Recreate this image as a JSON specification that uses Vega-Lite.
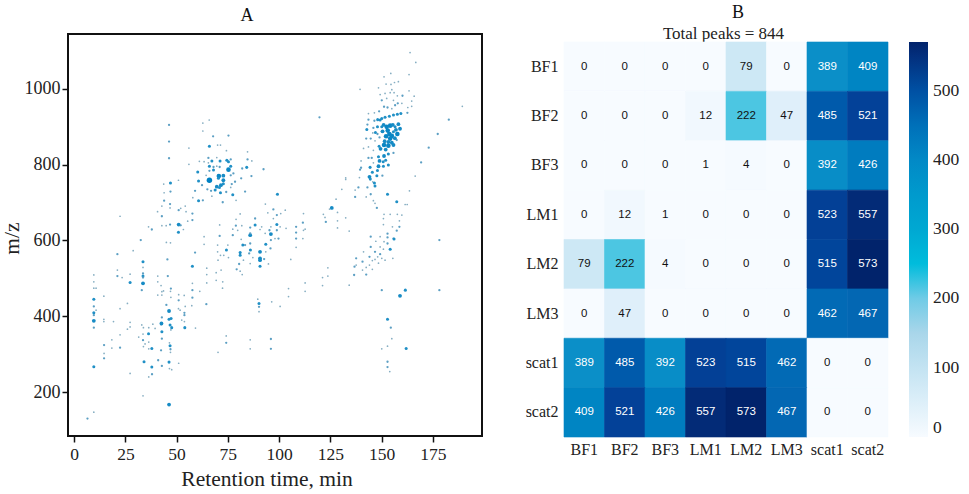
{
"$schema":"https://vega.github.io/schema/vega-lite/v6.json",
"autosize":"none",
"padding":{"left":68,"top":34,"right":901,"bottom":460},
"background":"white",
"bounds":"flush",
"spacing":82,
"config":{"font":"Liberation Serif","view":{"stroke":null}},
"resolve":{"scale":{"color":"independent","size":"independent"},"legend":{"color":"independent"}},
"hconcat":[
{
"width":414,"height":402,
"title":{"text":"A","font":"Liberation Serif","fontSize":18,"fontWeight":"normal","offset":9,"color":"#111","dx":-28},
"view":{"stroke":"#111","strokeWidth":2},
"data":{"values":[
{"t":9.6,"m":509,"i":1},{"t":9.6,"m":491,"i":1},{"t":9.6,"m":474,"i":1},{"t":9.6,"m":445,"i":3},{"t":9.6,"m":426,"i":2},{"t":9.6,"m":409,"i":3},{"t":9.6,"m":403,"i":2},{"t":9.6,"m":388,"i":4},{"t":9.6,"m":370,"i":2},{"t":9.6,"m":267,"i":3},{"t":10.7,"m":474,"i":1},{"t":10.7,"m":416,"i":1},{"t":14.5,"m":453,"i":1},{"t":14.5,"m":392,"i":1},{"t":14.5,"m":386,"i":1},{"t":19.2,"m":386,"i":1},{"t":14.6,"m":324,"i":2},{"t":14.6,"m":302,"i":1},{"t":14.6,"m":289,"i":2},{"t":18.4,"m":338,"i":1},{"t":18.4,"m":316,"i":1},{"t":22.4,"m":351,"i":1},{"t":22.4,"m":317,"i":2},{"t":22.4,"m":420,"i":1},{"t":26,"m":434,"i":1},{"t":27.3,"m":384,"i":1},{"t":27.3,"m":372,"i":1},{"t":26,"m":366,"i":1},{"t":27.3,"m":249,"i":1},{"t":6.5,"m":130,"i":2},{"t":9.6,"m":147,"i":1},
{"t":21.1,"m":564,"i":2},{"t":21.1,"m":522,"i":1},{"t":21.1,"m":506,"i":2},{"t":23.4,"m":502,"i":1},{"t":27.3,"m":511,"i":1},{"t":27.3,"m":489,"i":3},{"t":28.8,"m":573,"i":1},{"t":32.5,"m":601,"i":2},{"t":33.6,"m":544,"i":3},{"t":33.6,"m":529,"i":1},{"t":33.6,"m":513,"i":2},{"t":33.6,"m":506,"i":3},{"t":33.6,"m":502,"i":2},{"t":33.6,"m":487,"i":4},{"t":33,"m":469,"i":2},{"t":33,"m":377,"i":1},{"t":33.8,"m":370,"i":1},{"t":36.4,"m":370,"i":1},{"t":38.4,"m":379,"i":1},{"t":39.5,"m":368,"i":1},{"t":42.4,"m":378,"i":1},{"t":31.5,"m":345,"i":1},{"t":33.6,"m":353,"i":1},{"t":36.3,"m":354,"i":3},{"t":33.6,"m":337,"i":2},{"t":36.4,"m":332,"i":1},{"t":33.8,"m":320,"i":1},{"t":34.6,"m":327,"i":1},{"t":36.4,"m":314,"i":1},{"t":37.9,"m":315,"i":3},{"t":34.1,"m":280,"i":3},{"t":37.9,"m":266,"i":3},{"t":38,"m":247,"i":2},{"t":36.4,"m":240,"i":1},{"t":33.6,"m":190,"i":1},{"t":41,"m":284,"i":2},{"t":42.8,"m":269,"i":2},{"t":42.4,"m":310,"i":2},{"t":42.8,"m":341,"i":2},{"t":42.8,"m":359,"i":3},{"t":42.6,"m":381,"i":4},{"t":42.8,"m":397,"i":2},{"t":45,"m":430,"i":2},{"t":46.3,"m":414,"i":4},{"t":46.3,"m":392,"i":3},{"t":47.3,"m":394,"i":3},{"t":46.8,"m":377,"i":3},{"t":47.6,"m":370,"i":3},{"t":47.2,"m":364,"i":1},{"t":46.5,"m":330,"i":1},{"t":46.8,"m":322,"i":3},{"t":47,"m":313,"i":2},{"t":47,"m":305,"i":1},{"t":46.3,"m":279,"i":3},{"t":46.5,"m":262,"i":1},{"t":47.6,"m":259,"i":1},{"t":51,"m":276,"i":1},{"t":46.3,"m":167,"i":4},
{"t":45.5,"m":550,"i":2},{"t":45.7,"m":506,"i":2},{"t":45,"m":595,"i":1},{"t":47,"m":594,"i":1},{"t":40.8,"m":506,"i":1},{"t":40.8,"m":491,"i":1},{"t":42.4,"m":481,"i":1},{"t":42.8,"m":465,"i":1},{"t":43.6,"m":467,"i":1},{"t":40.8,"m":456,"i":1},{"t":42.8,"m":456,"i":1},{"t":47.2,"m":473,"i":2},{"t":47,"m":466,"i":1},{"t":47.2,"m":450,"i":1},{"t":51,"m":457,"i":1},{"t":51,"m":442,"i":2},{"t":53.7,"m":455,"i":1},{"t":57.7,"m":469,"i":2},{"t":61.3,"m":466,"i":1},{"t":57.7,"m":449,"i":2},{"t":54.2,"m":426,"i":1},{"t":57.4,"m":428,"i":1},{"t":50.9,"m":420,"i":1},{"t":51.7,"m":416,"i":1},{"t":53.8,"m":409,"i":2},{"t":53.8,"m":403,"i":2},{"t":52.5,"m":390,"i":1},{"t":53.8,"m":386,"i":1},{"t":54,"m":370,"i":3},{"t":59.2,"m":369,"i":1},{"t":57.7,"m":532,"i":3},{"t":57.7,"m":487,"i":1},{"t":64.7,"m":527,"i":1},{"t":64.7,"m":510,"i":1},{"t":64.7,"m":488,"i":1},{"t":64.5,"m":432,"i":2},{"t":59,"m":568,"i":2},{"t":63.4,"m":610,"i":1},{"t":63.4,"m":590,"i":1},
{"t":70,"m":588,"i":1},{"t":71,"m":612,"i":2},{"t":70,"m":570,"i":1},{"t":71.4,"m":561,"i":1},{"t":73,"m":561,"i":1},{"t":74.3,"m":575,"i":3},{"t":75.3,"m":555,"i":1},{"t":70.2,"m":548,"i":1},{"t":75,"m":588,"i":1},{"t":69.3,"m":515,"i":1},{"t":71.7,"m":522,"i":1},{"t":69.3,"m":495,"i":1},{"t":72.5,"m":491,"i":1},{"t":72.4,"m":474,"i":1},{"t":79.3,"m":524,"i":2},{"t":81,"m":519,"i":1},{"t":82,"m":510,"i":1},{"t":80.5,"m":538,"i":2},{"t":82.6,"m":548,"i":1},{"t":81,"m":568,"i":3},{"t":81,"m":561,"i":3},{"t":77.4,"m":614,"i":2},{"t":82.3,"m":588,"i":3},{"t":83.4,"m":588,"i":2},{"t":81.5,"m":603,"i":1},{"t":85.9,"m":614,"i":4},{"t":85.9,"m":592,"i":2},{"t":86,"m":575,"i":3},{"t":85.4,"m":566,"i":2},{"t":87.2,"m":555,"i":1},{"t":85.9,"m":539,"i":1},{"t":90.7,"m":570,"i":4},{"t":90.7,"m":553,"i":4},{"t":90.7,"m":548,"i":4},{"t":90.7,"m":532,"i":3},{"t":92.7,"m":551,"i":2},{"t":93.5,"m":590,"i":3},{"t":93.5,"m":570,"i":1},{"t":95.8,"m":579,"i":2},{"t":96,"m":617,"i":4},{"t":96,"m":601,"i":2},{"t":94.8,"m":538,"i":1},{"t":98,"m":605,"i":1},{"t":99.7,"m":605,"i":2},{"t":89.6,"m":445,"i":1},{"t":90.2,"m":434,"i":3},{"t":90.2,"m":425,"i":2},{"t":90.2,"m":412,"i":1},{"t":96.4,"m":438,"i":1},{"t":100.5,"m":426,"i":1},{"t":74.2,"m":348,"i":1},{"t":74.2,"m":330,"i":2},{"t":70.2,"m":305,"i":1},{"t":85.9,"m":338,"i":1},{"t":85.9,"m":314,"i":1},{"t":96,"m":340,"i":2},{"t":96,"m":314,"i":2},
{"t":46.3,"m":905,"i":2},{"t":46.3,"m":861,"i":2},{"t":46.3,"m":817,"i":2},{"t":62.8,"m":910,"i":1},{"t":65.9,"m":918,"i":1},{"t":62.8,"m":889,"i":1},{"t":67.8,"m":875,"i":2},{"t":75.3,"m":877,"i":2},{"t":66,"m":849,"i":3},{"t":70,"m":852,"i":1},{"t":71.4,"m":852,"i":1},{"t":74.3,"m":837,"i":1},{"t":56,"m":844,"i":1},{"t":56,"m":801,"i":1},{"t":84.6,"m":834,"i":1},{"t":84.6,"m":814,"i":2},{"t":86.7,"m":810,"i":1},{"t":65.5,"m":818,"i":2},{"t":69.6,"m":819,"i":1},{"t":61.1,"m":809,"i":1},{"t":63.4,"m":808,"i":1},{"t":65.5,"m":805,"i":1},{"t":67.2,"m":810,"i":3},{"t":71.2,"m":810,"i":3},{"t":74.5,"m":812,"i":3},{"t":76.4,"m":814,"i":2},{"t":75.3,"m":808,"i":3},{"t":66,"m":796,"i":3},{"t":68,"m":794,"i":2},{"t":69.6,"m":796,"i":1},{"t":71,"m":794,"i":2},{"t":76.4,"m":796,"i":3},{"t":75.3,"m":787,"i":5},{"t":68,"m":786,"i":3},{"t":66,"m":784,"i":2},{"t":60.3,"m":781,"i":3},{"t":64.4,"m":772,"i":1},{"t":70.6,"m":770,"i":5},{"t":72.8,"m":771,"i":4},{"t":76.4,"m":772,"i":2},{"t":77.7,"m":777,"i":2},{"t":66,"m":759,"i":6},{"t":60.7,"m":757,"i":3},{"t":70.4,"m":764,"i":3},{"t":72.8,"m":759,"i":4},{"t":72.8,"m":750,"i":3},{"t":71.6,"m":746,"i":4},{"t":69.6,"m":742,"i":4},{"t":68.8,"m":733,"i":3},{"t":70.9,"m":740,"i":3},{"t":62.4,"m":746,"i":2},{"t":65,"m":735,"i":2},{"t":66.8,"m":731,"i":2},{"t":59,"m":731,"i":2},{"t":71.4,"m":726,"i":3},{"t":74.2,"m":728,"i":2},{"t":76.9,"m":749,"i":2},{"t":76.4,"m":740,"i":1},{"t":78.5,"m":755,"i":2},{"t":81.5,"m":764,"i":2},{"t":83.4,"m":729,"i":2},{"t":77.4,"m":721,"i":3},{"t":72.5,"m":701,"i":2},{"t":79,"m":706,"i":1},{"t":67.2,"m":717,"i":1},{"t":60.7,"m":705,"i":3},{"t":62.8,"m":706,"i":2},{"t":57.9,"m":713,"i":1},{"t":82,"m":790,"i":2},{"t":84.2,"m":793,"i":3},{"t":86.5,"m":770,"i":2},{"t":92.4,"m":788,"i":2},
{"t":50.9,"m":759,"i":1},{"t":47,"m":752,"i":3},{"t":43.7,"m":749,"i":1},{"t":43.9,"m":726,"i":1},{"t":47,"m":729,"i":2},{"t":43.9,"m":705,"i":2},{"t":46.8,"m":696,"i":2},{"t":46.8,"m":686,"i":1},{"t":51,"m":680,"i":2},{"t":52,"m":685,"i":1},{"t":54.2,"m":691,"i":1},{"t":42.8,"m":691,"i":1},{"t":40.7,"m":676,"i":1},{"t":54.6,"m":676,"i":1},{"t":57.7,"m":671,"i":2},{"t":42.8,"m":664,"i":2},{"t":57.7,"m":654,"i":2},{"t":55.4,"m":651,"i":1},{"t":22.4,"m":664,"i":1},{"t":36.3,"m":636,"i":1},{"t":37.9,"m":629,"i":2},{"t":42.8,"m":639,"i":1},{"t":44.9,"m":639,"i":1},{"t":46.8,"m":642,"i":2},{"t":51,"m":642,"i":4},{"t":52,"m":640,"i":2},{"t":50.9,"m":622,"i":3},{"t":53.3,"m":629,"i":1},
{"t":99.2,"m":722,"i":3},{"t":93.3,"m":696,"i":1},{"t":97.2,"m":682,"i":2},{"t":94.5,"m":673,"i":1},{"t":98.9,"m":667,"i":2},{"t":98.9,"m":642,"i":3},{"t":97.2,"m":658,"i":1},{"t":96,"m":636,"i":1},{"t":95.3,"m":627,"i":2},{"t":91.5,"m":636,"i":1},{"t":88.3,"m":658,"i":2},{"t":88.3,"m":641,"i":3},{"t":85.9,"m":634,"i":2},{"t":85.9,"m":619,"i":2},{"t":79,"m":656,"i":1},{"t":81,"m":670,"i":1},{"t":78.9,"m":639,"i":2},{"t":81.8,"m":639,"i":1},{"t":77.4,"m":630,"i":1},{"t":79.8,"m":627,"i":1},{"t":71,"m":641,"i":1},{"t":90.7,"m":629,"i":1},{"t":93.2,"m":619,"i":1},{"t":98.9,"m":627,"i":2},{"t":100.5,"m":636,"i":1},
{"t":119.7,"m":925,"i":2},{"t":139.5,"m":999,"i":1},{"t":163.9,"m":1096,"i":1},{"t":166.7,"m":1070,"i":1},{"t":163.4,"m":1038,"i":1},{"t":151.2,"m":1032,"i":1},{"t":154.5,"m":1041,"i":1},{"t":158.2,"m":1019,"i":1},{"t":156.3,"m":1017,"i":1},{"t":152.2,"m":1013,"i":1},{"t":154.6,"m":1012,"i":1},{"t":148.5,"m":1003,"i":1},{"t":155,"m":998,"i":1},{"t":163.4,"m":995,"i":1},{"t":151.7,"m":988,"i":1},{"t":154.2,"m":990,"i":1},{"t":156.1,"m":990,"i":1},{"t":149.3,"m":985,"i":1},{"t":157.7,"m":982,"i":1},{"t":160.2,"m":982,"i":2},{"t":165.9,"m":981,"i":1},{"t":152.5,"m":975,"i":1},{"t":150.1,"m":970,"i":2},{"t":155.8,"m":970,"i":1},{"t":164.7,"m":968,"i":1},{"t":157.9,"m":962,"i":2},{"t":159.9,"m":962,"i":1},{"t":156.6,"m":957,"i":2},{"t":151.2,"m":953,"i":2},{"t":152.9,"m":951,"i":2},{"t":155,"m":948,"i":1},{"t":162.8,"m":951,"i":1},{"t":164.7,"m":954,"i":1},{"t":148.8,"m":941,"i":2},{"t":146.5,"m":937,"i":1},{"t":143.6,"m":935,"i":1},{"t":159.4,"m":935,"i":3},{"t":157.7,"m":933,"i":3},{"t":155.8,"m":931,"i":3},{"t":153.8,"m":928,"i":3},{"t":151.7,"m":925,"i":3},{"t":162.6,"m":937,"i":2},{"t":150.1,"m":922,"i":3},{"t":148.1,"m":919,"i":3},{"t":143.6,"m":919,"i":2},{"t":146.5,"m":916,"i":2},{"t":149.3,"m":918,"i":3},{"t":158.2,"m":907,"i":4},{"t":156.6,"m":900,"i":3},{"t":154.2,"m":903,"i":5},{"t":152.5,"m":900,"i":5},{"t":150.1,"m":900,"i":3},{"t":148,"m":900,"i":3},{"t":146,"m":897,"i":2},{"t":143.1,"m":906,"i":2},{"t":142.8,"m":893,"i":3},{"t":157.7,"m":881,"i":5},{"t":155.8,"m":887,"i":3},{"t":153.8,"m":881,"i":5},{"t":152.2,"m":875,"i":5},{"t":150.1,"m":887,"i":2},{"t":148,"m":881,"i":2},{"t":145.7,"m":884,"i":1},{"t":154.2,"m":869,"i":5},{"t":157.4,"m":865,"i":2},{"t":142.5,"m":869,"i":2},{"t":144.7,"m":869,"i":2},{"t":149,"m":872,"i":2},{"t":146.8,"m":863,"i":1},{"t":151.2,"m":852,"i":5},{"t":153.3,"m":850,"i":5},{"t":155.8,"m":852,"i":4},{"t":148.8,"m":849,"i":3},{"t":141.2,"m":843,"i":1},{"t":143.6,"m":847,"i":1},{"t":146,"m":838,"i":1},{"t":153.3,"m":860,"i":4},{"t":155.8,"m":831,"i":2},{"t":153.3,"m":828,"i":3},{"t":151.2,"m":823,"i":4},{"t":148.5,"m":821,"i":3},{"t":143.6,"m":818,"i":2},{"t":145.2,"m":818,"i":2},{"t":140,"m":810,"i":1},{"t":146,"m":805,"i":1},{"t":148.5,"m":796,"i":4},{"t":150.9,"m":796,"i":3},{"t":153.3,"m":799,"i":3},{"t":144.4,"m":793,"i":3},{"t":140,"m":792,"i":2},{"t":139.5,"m":787,"i":2},{"t":144.1,"m":768,"i":4},{"t":147.7,"m":771,"i":3},{"t":150.4,"m":771,"i":2},{"t":139.2,"m":766,"i":1},{"t":132.5,"m":765,"i":1},{"t":132.5,"m":761,"i":1},{"t":166.4,"m":770,"i":1},{"t":138.7,"m":740,"i":2},{"t":143.1,"m":740,"i":2},{"t":146.8,"m":744,"i":3},{"t":145.7,"m":755,"i":1},{"t":130.6,"m":735,"i":1},{"t":137.1,"m":733,"i":1},{"t":137.1,"m":715,"i":2},{"t":142.5,"m":715,"i":1},{"t":144.7,"m":722,"i":2},{"t":152.9,"m":722,"i":3},{"t":163.6,"m":731,"i":1},{"t":169.3,"m":806,"i":2},{"t":173,"m":845,"i":2},{"t":177.4,"m":881,"i":2},{"t":182.8,"m":919,"i":2},{"t":189.4,"m":954,"i":1},{"t":127.8,"m":709,"i":1},{"t":146,"m":705,"i":1},{"t":146.8,"m":698,"i":1},{"t":147.7,"m":686,"i":2},{"t":157.4,"m":702,"i":3},{"t":161.5,"m":695,"i":1},{"t":162.5,"m":695,"i":1},{"t":125.7,"m":686,"i":4},{"t":124.6,"m":683,"i":1},{"t":121.6,"m":669,"i":1},{"t":103,"m":680,"i":1},{"t":111.9,"m":671,"i":1},{"t":111.6,"m":647,"i":2},{"t":100.8,"m":671,"i":1},{"t":122.4,"m":661,"i":1},{"t":122.8,"m":649,"i":2},{"t":128.5,"m":674,"i":1},{"t":128.5,"m":652,"i":1},{"t":128.5,"m":633,"i":1},{"t":132.5,"m":660,"i":1},{"t":134.2,"m":625,"i":1},{"t":108.3,"m":636,"i":2},{"t":108.3,"m":621,"i":2},{"t":111.9,"m":627,"i":1},{"t":112.7,"m":630,"i":1},{"t":103.4,"m":632,"i":1},{"t":151.2,"m":669,"i":1},{"t":154.2,"m":669,"i":1},{"t":157.7,"m":669,"i":1},{"t":159.9,"m":667,"i":1},{"t":150.9,"m":658,"i":1},{"t":158.7,"m":652,"i":1},{"t":150.9,"m":642,"i":1},{"t":155.3,"m":636,"i":1},{"t":158.7,"m":636,"i":2},{"t":157.4,"m":626,"i":2},{"t":152.9,"m":618,"i":2},{"t":152.9,"m":608,"i":2},{"t":155.8,"m":605,"i":2},{"t":144.7,"m":610,"i":2},
{"t":178.2,"m":601,"i":2},{"t":149.3,"m":610,"i":1},{"t":156.1,"m":604,"i":3},{"t":152.9,"m":592,"i":2},{"t":151.2,"m":597,"i":1},{"t":147.2,"m":598,"i":1},{"t":154.2,"m":577,"i":3},{"t":144.7,"m":583,"i":2},{"t":149.3,"m":583,"i":1},{"t":150.9,"m":577,"i":1},{"t":146.8,"m":570,"i":2},{"t":149.3,"m":564,"i":2},{"t":141.2,"m":570,"i":1},{"t":144.1,"m":557,"i":2},{"t":137.6,"m":553,"i":2},{"t":146.8,"m":550,"i":1},{"t":148.1,"m":557,"i":1},{"t":150.1,"m":553,"i":1},{"t":151.7,"m":548,"i":1},{"t":155.5,"m":553,"i":1},{"t":140.7,"m":544,"i":2},{"t":145.5,"m":547,"i":1},{"t":148.5,"m":540,"i":1},{"t":137.6,"m":535,"i":1},{"t":136.8,"m":531,"i":2},{"t":144.1,"m":535,"i":1},{"t":142.5,"m":529,"i":1},{"t":140.7,"m":522,"i":1},{"t":145.5,"m":524,"i":1},{"t":136.6,"m":509,"i":2},{"t":142.5,"m":510,"i":2},{"t":123.8,"m":528,"i":1},{"t":123.8,"m":506,"i":1},{"t":121.2,"m":502,"i":1},{"t":121.2,"m":481,"i":1},{"t":134.2,"m":482,"i":1},{"t":112.7,"m":488,"i":1},{"t":112.7,"m":466,"i":1},{"t":104.6,"m":473,"i":1},{"t":104.6,"m":452,"i":1},{"t":105.7,"m":550,"i":1},{"t":108.3,"m":582,"i":1},{"t":108.3,"m":605,"i":2},{"t":111.6,"m":605,"i":1},
{"t":150.1,"m":469,"i":2},{"t":161.6,"m":469,"i":3},{"t":159,"m":454,"i":4},{"t":178.2,"m":469,"i":2},{"t":152.9,"m":392,"i":3},{"t":154.5,"m":370,"i":2},{"t":155,"m":341,"i":1},{"t":152.9,"m":321,"i":1},{"t":150.1,"m":314,"i":1},{"t":162,"m":315,"i":3},{"t":152.9,"m":280,"i":2},{"t":152.9,"m":266,"i":2},{"t":154,"m":254,"i":1},
{"t":151,"m":905,"i":4},{"t":155.5,"m":905,"i":4},{"t":157,"m":892,"i":4},{"t":159,"m":895,"i":4},{"t":155,"m":876,"i":5},{"t":156.5,"m":870,"i":4},{"t":151.5,"m":862,"i":4},{"t":155,"m":858,"i":4},{"t":150.5,"m":888,"i":4},{"t":153,"m":890,"i":5},{"t":149.5,"m":842,"i":4},{"t":152,"m":840,"i":4},{"t":147,"m":885,"i":3},{"t":149,"m":810,"i":4},{"t":152,"m":812,"i":3},{"t":145.5,"m":780,"i":3},{"t":144.5,"m":762,"i":3},{"t":148,"m":785,"i":3},{"t":150.8,"m":808,"i":3},{"t":146.5,"m":752,"i":3}
]},
"mark":{"type":"circle","opacity":1,"stroke":null},
"encoding":{
"x":{"field":"t","type":"quantitative","scale":{"domain":[-3,199],"nice":false,"zero":false},
"axis":{"title":"Retention time, min","values":[0,25,50,75,100,125,150,175],"grid":false,"domain":false,"tickColor":"#111","tickWidth":1.5,"tickSize":6,"labelFont":"Liberation Serif","labelFontSize":17.5,"labelColor":"#222","labelPadding":3,"titleFont":"Liberation Serif","titleFontSize":21.5,"titleFontWeight":"normal","titleColor":"#222","titlePadding":6,"titleX":198.5}},
"y":{"field":"m","type":"quantitative","scale":{"domain":[84,1145],"nice":false,"zero":false},
"axis":{"title":"m/z","format":"d","values":[200,400,600,800,1000],"grid":false,"domain":false,"tickColor":"#111","tickWidth":1.5,"tickSize":6,"labelFont":"Liberation Serif","labelFontSize":18,"labelColor":"#222","labelPadding":2,"titleFont":"Liberation Serif","titleFontSize":21.5,"titleFontWeight":"normal","titleColor":"#222","titlePadding":1,"titleY":204}},
"size":{"field":"i","type":"quantitative","legend":null,"scale":{"type":"pow","exponent":2,"domain":[1,6],"range":[3,30],"zero":false}},
"color":{"field":"i","type":"quantitative","legend":null,"scale":{"domain":[1,3,5],"range":["#86aec2","#2090c6","#0a86c4"],"zero":false}}
}
},
{
"width":324,"height":403,
"title":{"text":"B","font":"Liberation Serif","fontSize":18,"fontWeight":"normal","color":"#111","dx":12,"offset":2},
"data":{"values":[
{"a":"BF1","b":"BF1","v":0},{"a":"BF2","b":"BF1","v":0},{"a":"BF3","b":"BF1","v":0},{"a":"LM1","b":"BF1","v":0},{"a":"LM2","b":"BF1","v":79},{"a":"LM3","b":"BF1","v":0},{"a":"scat1","b":"BF1","v":389},{"a":"scat2","b":"BF1","v":409},
{"a":"BF1","b":"BF2","v":0},{"a":"BF2","b":"BF2","v":0},{"a":"BF3","b":"BF2","v":0},{"a":"LM1","b":"BF2","v":12},{"a":"LM2","b":"BF2","v":222},{"a":"LM3","b":"BF2","v":47},{"a":"scat1","b":"BF2","v":485},{"a":"scat2","b":"BF2","v":521},
{"a":"BF1","b":"BF3","v":0},{"a":"BF2","b":"BF3","v":0},{"a":"BF3","b":"BF3","v":0},{"a":"LM1","b":"BF3","v":1},{"a":"LM2","b":"BF3","v":4},{"a":"LM3","b":"BF3","v":0},{"a":"scat1","b":"BF3","v":392},{"a":"scat2","b":"BF3","v":426},
{"a":"BF1","b":"LM1","v":0},{"a":"BF2","b":"LM1","v":12},{"a":"BF3","b":"LM1","v":1},{"a":"LM1","b":"LM1","v":0},{"a":"LM2","b":"LM1","v":0},{"a":"LM3","b":"LM1","v":0},{"a":"scat1","b":"LM1","v":523},{"a":"scat2","b":"LM1","v":557},
{"a":"BF1","b":"LM2","v":79},{"a":"BF2","b":"LM2","v":222},{"a":"BF3","b":"LM2","v":4},{"a":"LM1","b":"LM2","v":0},{"a":"LM2","b":"LM2","v":0},{"a":"LM3","b":"LM2","v":0},{"a":"scat1","b":"LM2","v":515},{"a":"scat2","b":"LM2","v":573},
{"a":"BF1","b":"LM3","v":0},{"a":"BF2","b":"LM3","v":47},{"a":"BF3","b":"LM3","v":0},{"a":"LM1","b":"LM3","v":0},{"a":"LM2","b":"LM3","v":0},{"a":"LM3","b":"LM3","v":0},{"a":"scat1","b":"LM3","v":462},{"a":"scat2","b":"LM3","v":467},
{"a":"BF1","b":"scat1","v":389},{"a":"BF2","b":"scat1","v":485},{"a":"BF3","b":"scat1","v":392},{"a":"LM1","b":"scat1","v":523},{"a":"LM2","b":"scat1","v":515},{"a":"LM3","b":"scat1","v":462},{"a":"scat1","b":"scat1","v":0},{"a":"scat2","b":"scat1","v":0},
{"a":"BF1","b":"scat2","v":409},{"a":"BF2","b":"scat2","v":521},{"a":"BF3","b":"scat2","v":426},{"a":"LM1","b":"scat2","v":557},{"a":"LM2","b":"scat2","v":573},{"a":"LM3","b":"scat2","v":467},{"a":"scat1","b":"scat2","v":0},{"a":"scat2","b":"scat2","v":0}
]},
"encoding":{
"y":{"field":"b","type":"nominal","sort":["BF1","BF2","BF3","LM1","LM2","LM3","scat1","scat2"],"scale":{"range":[8,403],"paddingInner":0,"paddingOuter":0},
"axis":{"title":null,"domain":false,"ticks":false,"labelFont":"Liberation Serif","labelFontSize":16,"labelColor":"#222","labelPadding":6,"labelAngle":0}}
},
"layer":[
{"mark":{"type":"rect","strokeWidth":0.6},
"encoding":{
"x":{"field":"a","type":"nominal","sort":["BF1","BF2","BF3","LM1","LM2","LM3","scat1","scat2"],"scale":{"paddingInner":0,"paddingOuter":0},
"axis":{"title":null,"domain":false,"ticks":false,"labelFont":"Liberation Serif","labelFontSize":16,"labelColor":"#222","labelPadding":4,"labelAngle":0}},
"color":{"field":"v","type":"quantitative",
"scale":{"domain":[0,79,150,222,250,300,389,465,521,570],"range":["#f7fbff","#cde8f5","#a9d6ea","#4cc6e2","#00bcdc","#00a8d2","#0b8fc8","#0468b4","#034198","#01236b"],"clamp":true},
"legend":{"title":null,"orient":"none","legendX":345,"legendY":8,"gradientLength":395,"gradientThickness":19,"values":[0,100,200,300,400,500],"labelFont":"Liberation Serif","labelFontSize":17.5,"labelColor":"#222","labelOffset":5,"direction":"vertical"}},
"stroke":{"field":"v","type":"quantitative","legend":null,
"scale":{"domain":[0,79,150,222,250,300,389,465,521,570],"range":["#f7fbff","#cde8f5","#a9d6ea","#4cc6e2","#00bcdc","#00a8d2","#0b8fc8","#0468b4","#034198","#01236b"],"clamp":true}}
}},
{"mark":{"type":"text","font":"Liberation Sans","fontSize":11.5},
"encoding":{
"x":{"field":"a","type":"nominal","sort":["BF1","BF2","BF3","LM1","LM2","LM3","scat1","scat2"],
"axis":{"orient":"top","title":"Total peaks = 844","labels":false,"ticks":false,"domain":false,"titleFont":"Liberation Serif","titleFontSize":17,"titleFontWeight":"normal","titleColor":"#222","titleX":159,"titleY":4,"titleAlign":"center","titleBaseline":"alphabetic"}},
"text":{"field":"v","type":"quantitative"},
"color":{"condition":{"test":"datum.v > 300","value":"#ffffff"},"value":"#111111"}
}}
],
"resolve":{"axis":{"x":"independent"}}
}
]
}
